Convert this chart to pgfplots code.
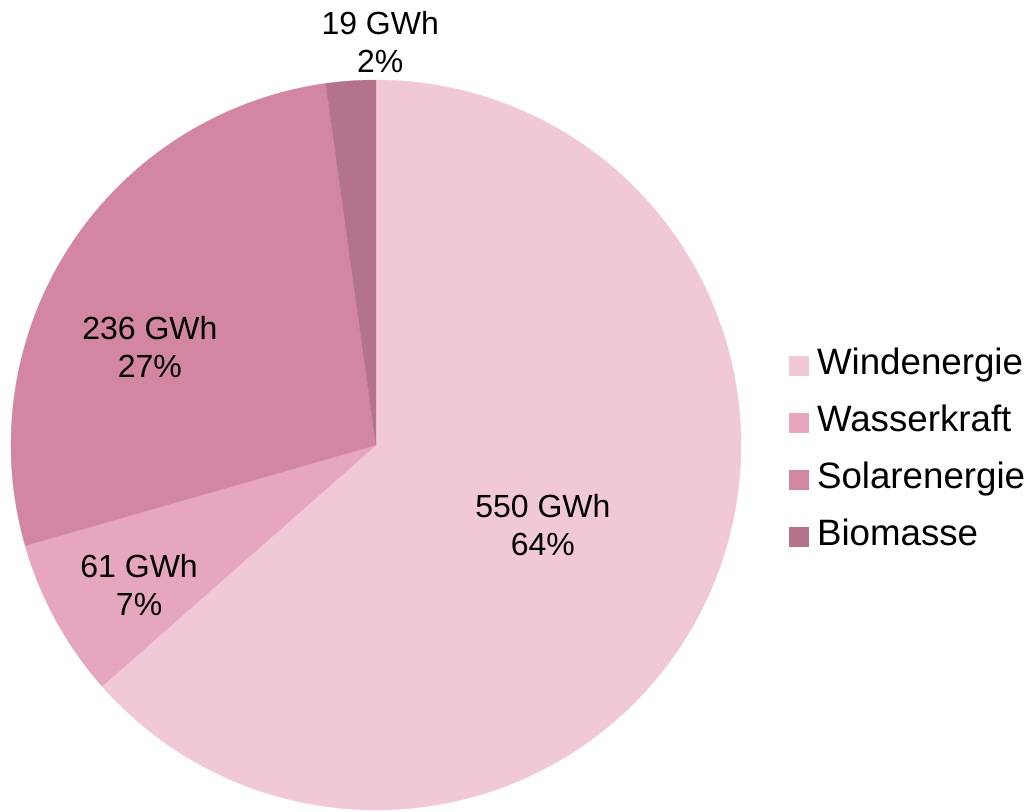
\documentclass[border=0pt]{standalone}
\usepackage{pgfplots}
\pgfplotsset{compat=1.18}
\usepgfplotslibrary{polar}
\usepackage{fontspec}
\setmainfont{Liberation Sans}
\definecolor{cWind}{RGB}{240,200,216}
\definecolor{cWasser}{RGB}{230,166,192}
\definecolor{cSolar}{RGB}{210,134,164}
\definecolor{cBio}{RGB}{180,115,141}
\begin{document}
\begin{tikzpicture}[x=1pt,y=1pt]
% values in GWh
\def\vWind{550}\def\vWasser{61}\def\vSolar{236}\def\vBio{19}
\pgfmathsetmacro\total{\vWind+\vWasser+\vSolar+\vBio}
\pgfmathsetmacro\aA{90}
\pgfmathsetmacro\aB{\aA-\vWind/\total*360}
\pgfmathsetmacro\aC{\aB-\vWasser/\total*360}
\pgfmathsetmacro\aD{\aC-\vSolar/\total*360}
\pgfmathsetmacro\aE{\aD-\vBio/\total*360}
\path[use as bounding box] (-376,-366) rectangle (656,445);
\begin{polaraxis}[
  at={(0,0)}, anchor=center,
  scale only axis, width=730pt, height=730pt,
  ymin=0, ymax=1, hide axis, clip=false,
  legend cell align=left,
  legend image code/.code={\fill[#1] (0pt,-9.5pt) rectangle (19pt,9.5pt);},
  legend style={at={(1.061,0.492)}, anchor=west, draw=none, fill=none,
    font=\fontsize{36.7}{44}\selectfont, row sep=23pt, column sep=9pt,
    nodes={inner sep=0pt, text height=26pt, text depth=8pt}},
]
\addplot[fill=cWind, draw=cWind, line width=0.3pt, domain=\aB:\aA, samples=300] {1} -- (axis cs:0,0) -- cycle;
\addlegendentry{Windenergie}
\addplot[fill=cWasser, draw=cWasser, line width=0.3pt, domain=\aC:\aB, samples=60] {1} -- (axis cs:0,0) -- cycle;
\addlegendentry{Wasserkraft}
\addplot[fill=cSolar, draw=cSolar, line width=0.3pt, domain=\aD:\aC, samples=150] {1} -- (axis cs:0,0) -- cycle;
\addlegendentry{Solarenergie}
\addplot[fill=cBio, draw=cBio, line width=0.3pt, domain=\aE:\aD, samples=30] {1} -- (axis cs:0,0) -- cycle;
\addlegendentry{Biomasse}
\tikzset{lbl/.style={align=center, font=\fontsize{32}{38}\selectfont, inner sep=0pt}}
\node[lbl] at (axis cs:-25.6,0.507) {550 GWh\\64\%};
\node[lbl] at (axis cs:210.6,0.754) {61 GWh\\7\%};
\node[lbl] at (axis cs:156.6,0.675) {236 GWh\\27\%};
\node[lbl] at (axis cs:89.4,1.104) {19 GWh\\2\%};
\end{polaraxis}
\end{tikzpicture}
\end{document}
